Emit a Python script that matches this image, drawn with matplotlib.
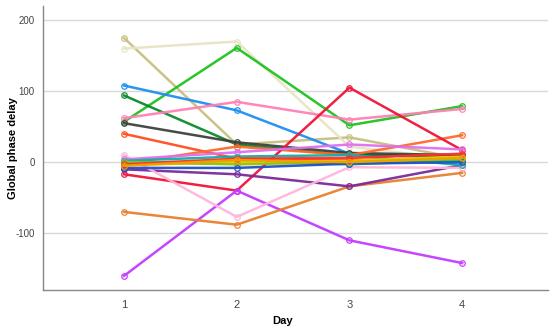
import matplotlib
matplotlib.use("Agg")
import matplotlib.pyplot as plt

plt.rcParams["font.family"] = ["Liberation Sans", "DejaVu Sans"]
plt.rcParams["axes.unicode_minus"] = False

days = [1, 2, 3, 4]

# one row per subject: (colour, values for day 1..4)
series_colors = [
    "#c8c07e", "#e8e4c4", "#1ec21e", "#1e8ff0", "#0b8a2a", "#ff80b6",
    "#404040", "#ff4e1e", "#ff6a2a", "#f01438", "#c23cff", "#e8802e",
    "#7a2a98", "#ffb6da", "#e070f0", "#12aea8", "#10c07e", "#e8d000",
    "#94c012", "#2050c8", "#ff3030", "#f0a000",
]
series_values = [
    [175, 25, 35, 5],
    [160, 170, 22, 3],
    [57, 161, 52, 79],
    [108, 73, 12, 5],
    [94, 25, 10, 8],
    [62, 85, 60, 75],
    [55, 28, 13, 10],
    [40, 5, 3, 4],
    [-2, 22, 10, 38],
    [-17, -40, 105, 17],
    [-160, -40, -110, -142],
    [-70, -88, -34, -15],
    [-10, -17, -34, -4],
    [10, -77, -7, -8],
    [4, 14, 25, 18],
    [2, 8, 10, -4],
    [-1, 2, -3, 3],
    [-4, 0, 2, 8],
    [0, -3, 0, 5],
    [-8, -8, -2, 0],
    [-3, 5, 6, 12],
    [-5, 3, 0, 6],
]

y_ticks = [-100, 0, 100, 200]

fig = plt.figure(figsize=(5.5, 3.33), dpi=100)
ax = fig.add_axes([0.078, 0.129, 0.918, 0.853])

for c, vals in zip(series_colors, series_values):
    ax.plot(days, vals, color=c, linewidth=1.8, marker="o", markersize=4,
            markerfacecolor="none", markeredgecolor=c, markeredgewidth=0.9,
            alpha=0.95, zorder=3)

ax.set_xlim(0.28, 4.76)
ax.set_ylim(-180, 220)
ax.set_xticks(days)
ax.set_yticks(y_ticks)
ax.tick_params(axis="x", length=0, labelsize=8, colors="#444444", pad=7)
ax.tick_params(axis="y", length=0, labelsize=7, colors="#444444", pad=6)
ax.yaxis.grid(True, color="#d8d8d8", linewidth=1)
ax.set_axisbelow(True)
for s in ["top", "right"]:
    ax.spines[s].set_visible(False)
for s in ["left", "bottom"]:
    ax.spines[s].set_color("#888888")
    ax.spines[s].set_linewidth(1)

ax.set_xlabel("Day", fontsize=8, fontweight="bold")
ax.set_ylabel("Global phase delay", fontsize=8, fontweight="bold")
ax.xaxis.set_label_coords(0.475, -0.09)
ax.yaxis.set_label_coords(-0.05, 0.5)

fig.savefig("out.png", dpi=100)
